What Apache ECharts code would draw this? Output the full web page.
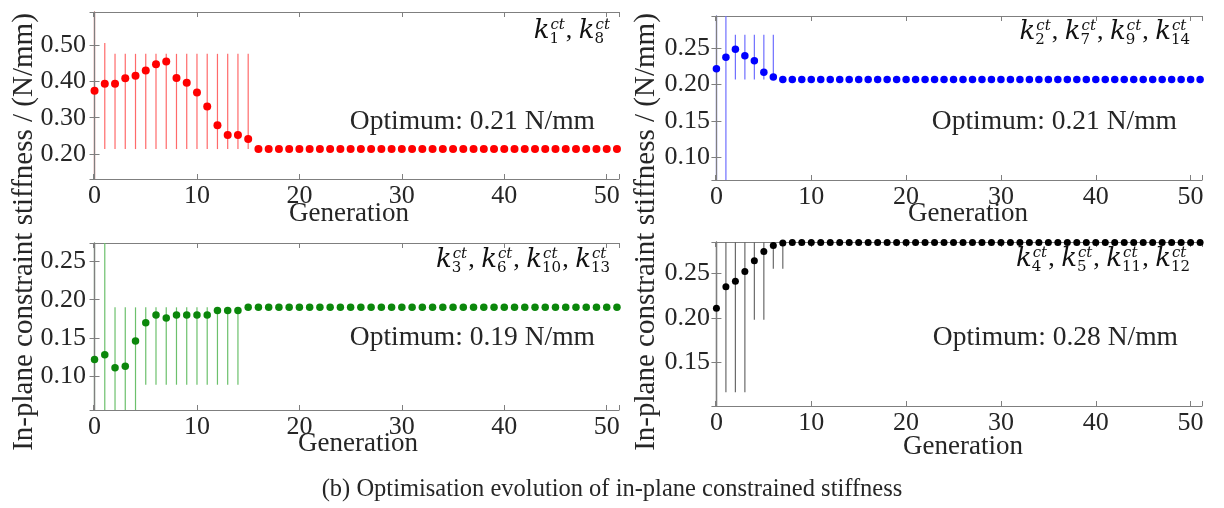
<!DOCTYPE html>
<html>
<head>
<meta charset="utf-8">
<script src="https://cdn.jsdelivr.net/npm/echarts/dist/echarts.min.js"></script>
<style>
  html, body { margin: 0; padding: 0; background: #fff; }
  #main { width: 1224px; height: 508px; }
</style>
</head>
<body>
<div id="main"></div>
<script>
// generation index (x)
const gens = [0,1,2,3,4,5,6,7,8,9,10,11,12,13,14,15,16,17,18,19,20,21,22,23,24,25,
  26,27,28,29,30,31,32,33,34,35,36,37,38,39,40,41,42,43,44,45,46,47,48,49,50,51];

// k1, k8 (red)
const redVals = [0.375,0.394,0.394,0.409,0.416,0.431,0.448,0.456,0.410,0.397,0.370,0.331,0.279,0.252,0.252,0.241,
  0.213,0.213,0.213,0.213,0.213,0.213,0.213,0.213,0.213,0.213,0.213,0.213,0.213,0.213,0.213,0.213,0.213,0.213,
  0.213,0.213,0.213,0.213,0.213,0.213,0.213,0.213,0.213,0.213,0.213,0.213,0.213,0.213,0.213,0.213,0.213,0.213];
const redLo = [null,0.213,0.213,0.213,0.213,0.213,0.213,0.213,0.213,0.213,0.213,0.213,0.213,0.213,0.213,0.213];
const redHi = [null,0.507,0.477,0.477,0.477,0.477,0.477,0.477,0.477,0.477,0.477,0.477,0.477,0.477,0.477,0.477];

// k2, k7, k9, k14 (blue)
const blueVals = [0.222,0.238,0.249,0.240,0.233,0.217,0.2105,0.207,0.207,0.207,0.207,0.207,0.207,0.207,0.207,0.207,
  0.207,0.207,0.207,0.207,0.207,0.207,0.207,0.207,0.207,0.207,0.207,0.207,0.207,0.207,0.207,0.207,0.207,0.207,
  0.207,0.207,0.207,0.207,0.207,0.207,0.207,0.207,0.207,0.207,0.207,0.207,0.207,0.207,0.207,0.207,0.207,0.207];
const blueLo = [null,0.068,0.207,0.207,0.207,0.207,0.207];
const blueHi = [null,0.295,0.269,0.269,0.269,0.269,0.269];

// k3, k6, k10, k13 (green)
const greenVals = [0.122,0.128,0.111,0.113,0.146,0.170,0.180,0.176,0.180,0.180,0.180,0.180,0.186,0.186,0.186,
  0.190,0.190,0.190,0.190,0.190,0.190,0.190,0.190,0.190,0.190,0.190,0.190,0.190,0.190,0.190,0.190,0.190,0.190,
  0.190,0.190,0.190,0.190,0.190,0.190,0.190,0.190,0.190,0.190,0.190,0.190,0.190,0.190,0.190,0.190,0.190,0.190,0.190];
const greenLo = [null,0.056,0.056,0.056,0.056,0.089,0.089,0.089,0.089,0.089,0.089,0.089,0.089,0.089,0.089];
const greenHi = [null,0.274,0.190,0.190,0.190,0.190,0.190,0.190,0.190,0.190,0.190,0.190,0.190,0.190,0.190];

// k4, k5, k11, k12 (black)
const blackVals = [0.211,0.235,0.241,0.252,0.264,0.2745,0.281,0.284,0.2845,0.2845,0.2845,0.2845,0.2845,0.2845,
  0.2845,0.2845,0.2845,0.2845,0.2845,0.2845,0.2845,0.2845,0.2845,0.2845,0.2845,0.2845,0.2845,0.2845,0.2845,
  0.2845,0.2845,0.2845,0.2845,0.2845,0.2845,0.2845,0.2845,0.2845,0.2845,0.2845,0.2845,0.2845,0.2845,0.2845,
  0.2845,0.2845,0.2845,0.2845,0.2845,0.2845,0.2845,0.2845];
const blackLo = [null,0.117,0.117,0.117,0.198,0.198,0.255,0.255];
const blackHi = [null,0.285,0.285,0.285,0.285,0.285,0.285,0.285];

const optimumText = ["Optimum: 0.21 N/mm", "Optimum: 0.21 N/mm", "Optimum: 0.19 N/mm", "Optimum: 0.28 N/mm"];
const kSubs = [["1","8"], ["2","7","9","14"], ["3","6","10","13"], ["4","5","11","12"]];

const SERIF = '"Liberation Serif", "Times New Roman", serif';
const TXT = '#262626';
const AX = '#7f7f7f';

// panel layout
const panels = [
  { grid: {left: 93, top: 12, width: 526, height: 167}, ymin: 0.13, ymax: 0.593, step: 0.1, split: 5,
    vals: redVals, lo: redLo, hi: redHi, dot: '#ff0000', bar: '#ff6a6a', spine: '#f08a8a', size: 8,
    kRight: 611, kY: 31, optX: 595, optY: 122, genX: 349, genY: 214 },
  { grid: {left: 715, top: 16, width: 487, height: 164}, ymin: 0.068, ymax: 0.295, step: 0.05, split: 5,
    vals: blueVals, lo: blueLo, hi: blueHi, dot: '#0000ff', bar: '#6f6fff', spine: '#9a9aff', size: 7.5,
    kRight: 1191, kY: 32, optX: 1177, optY: 122, genX: 968, genY: 214 },
  { grid: {left: 93, top: 243, width: 526, height: 167}, ymin: 0.056, ymax: 0.274, step: 0.05, split: 5,
    vals: greenVals, lo: greenLo, hi: greenHi, dot: '#0b870b', bar: '#6cc06c', spine: '#8fb08f', size: 7.5,
    kRight: 611, kY: 260, optX: 595, optY: 338, genX: 358, genY: 444 },
  { grid: {left: 715, top: 242, width: 487, height: 164}, ymin: 0.1015, ymax: 0.285, step: 0.05, split: 4,
    vals: blackVals, lo: blackLo, hi: blackHi, dot: '#000000', bar: '#6a6a6a', spine: AX, size: 7,
    kRight: 1191, kY: 259, optX: 1178, optY: 338, genX: 963, genY: 447 }
];

const ctx = document.createElement('canvas').getContext('2d');
function tw(text, font) { ctx.font = font; return ctx.measureText(text).width; }

const F_K = 'italic 26px "DejaVu Serif"';
const F_SUP = 'italic 15px "DejaVu Serif"';
const F_SUB = '15px "DejaVu Serif"';
const F_COMMA = '26px "Liberation Serif"';

function mathLabel(subs, right, yc) {
  const children = [];
  let x = 0;
  subs.forEach((s, i) => {
    const wk = tw('k', F_K);
    children.push({ type: 'text', x: x, y: yc, style: { text: 'k', font: F_K, fill: '#111', verticalAlign: 'middle' } });
    children.push({ type: 'text', x: x + wk + 1, y: yc - 6, style: { text: 'ct', font: F_SUP, fill: '#111', verticalAlign: 'middle' } });
    children.push({ type: 'text', x: x + wk, y: yc + 8, style: { text: s, font: F_SUB, fill: '#111', verticalAlign: 'middle' } });
    x += wk + Math.max(tw('ct', F_SUP) + 1, tw(s, F_SUB)) + 1;
    if (i < subs.length - 1) {
      children.push({ type: 'text', x: x, y: yc, style: { text: ', ', font: F_COMMA, fill: '#111', verticalAlign: 'middle' } });
      x += tw(', ', F_COMMA);
    }
  });
  return { type: 'group', x: right - x, y: 0, children: children };
}

function onStep(v, step) {
  const r = v / step;
  return Math.abs(r - Math.round(r)) < 1e-6;
}

const grids = [], xAxes = [], yAxes = [], series = [], graphics = [];

panels.forEach((p, i) => {
  grids.push(p.grid);
  const tickIn = { show: true, inside: true, length: 5, lineStyle: { color: AX } };
  // bottom x
  xAxes.push({
    gridIndex: i, type: 'value', min: -0.15, max: 51.2, splitNumber: 5, position: 'bottom',
    axisLine: { lineStyle: { color: AX, width: 1.2 } }, axisTick: tickIn, splitLine: { show: false },
    axisLabel: { color: TXT, fontFamily: SERIF, fontSize: 26, margin: 4,
      formatter: v => (onStep(v, 10) ? String(Math.round(v)) : '') }
  });
  // top x (mirror ticks)
  xAxes.push({
    gridIndex: i, type: 'value', min: -0.15, max: 51.2, splitNumber: 5, position: 'top',
    axisLine: { lineStyle: { color: AX, width: 1.2 } }, axisTick: tickIn, splitLine: { show: false },
    axisLabel: { show: false }
  });
  // left y
  yAxes.push({
    gridIndex: i, type: 'value', min: p.ymin, max: p.ymax, splitNumber: p.split, position: 'left',
    axisLine: { lineStyle: { color: p.spine, width: 1.4 } }, axisTick: tickIn, splitLine: { show: false },
    axisLabel: { color: TXT, fontFamily: SERIF, fontSize: 26, margin: i % 2 ? 5 : 7,
      formatter: v => (onStep(v, p.step) ? v.toFixed(2) : '') }
  });
  // right y (mirror ticks)
  yAxes.push({
    gridIndex: i, type: 'value', min: p.ymin, max: p.ymax, splitNumber: p.split, position: 'right',
    axisLine: { lineStyle: { color: AX, width: 1.2 } }, axisTick: tickIn, splitLine: { show: false },
    axisLabel: { show: false }
  });

  const bars = [];
  p.lo.forEach((lo, j) => { if (lo !== null) bars.push([gens[j], lo, p.hi[j]]); });
  series.push({
    type: 'custom', xAxisIndex: 2 * i, yAxisIndex: 2 * i, clip: true, z: 2,
    data: bars, encode: { x: 0, y: [1, 2] },
    renderItem: (params, api) => {
      const a = api.coord([api.value(0), api.value(1)]);
      const b = api.coord([api.value(0), api.value(2)]);
      return { type: 'line', shape: { x1: a[0], y1: a[1], x2: b[0], y2: b[1] },
        style: { stroke: p.bar, lineWidth: 1.2 } };
    }
  });
  series.push({
    type: 'scatter', xAxisIndex: 2 * i, yAxisIndex: 2 * i, z: 3, clip: false,
    symbol: 'circle', symbolSize: p.size, itemStyle: { color: p.dot, opacity: 1 },
    data: gens.map((g, j) => [g, p.vals[j]])
  });

  graphics.push(mathLabel(kSubs[i], p.kRight, p.kY));
  graphics.push({ type: 'text', x: p.optX, y: p.optY,
    style: { text: optimumText[i], font: '27.5px ' + SERIF, fill: TXT, align: 'right', verticalAlign: 'middle' } });
  graphics.push({ type: 'text', x: p.genX, y: p.genY,
    style: { text: 'Generation', font: '27px ' + SERIF, fill: TXT, align: 'center', verticalAlign: 'middle' } });
});

// shared y-axis titles and caption
[24, 646].forEach(x => {
  graphics.push({ type: 'text', x: x, y: 232, rotation: Math.PI / 2,
    style: { text: 'In-plane constraint stiffness / (N/mm)', font: '29px ' + SERIF, fill: TXT,
      align: 'center', verticalAlign: 'middle' } });
});
graphics.push({ type: 'text', x: 612, y: 490,
  style: { text: '(b) Optimisation evolution of in-plane constrained stiffness', font: '24.5px ' + SERIF,
    fill: TXT, align: 'center', verticalAlign: 'middle' } });

const chart = echarts.init(document.getElementById('main'), null, { renderer: 'canvas' });
chart.setOption({
  backgroundColor: '#ffffff',
  animation: false,
  grid: grids,
  xAxis: xAxes,
  yAxis: yAxes,
  series: series,
  graphic: graphics
});
</script>
</body>
</html>
